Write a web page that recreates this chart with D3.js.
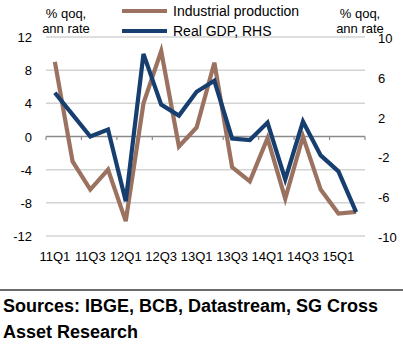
<!DOCTYPE html>
<html>
<head>
<meta charset="utf-8">
<script src="https://cdn.jsdelivr.net/npm/d3@7"></script>
<style>
  body { margin: 0; background: #fff; }
  svg { display: block; font-family: "Liberation Sans", Arial, sans-serif; }
</style>
</head>
<body>
<div id="chart"></div>
<script>
// quarters 11Q1 .. 15Q2
var quarters = ["11Q1","11Q2","11Q3","11Q4","12Q1","12Q2","12Q3","12Q4",
                "13Q1","13Q2","13Q3","13Q4","14Q1","14Q2","14Q3","14Q4","15Q1","15Q2"];
// industrial production, % qoq ann rate (left axis)
var industrial = [9.0, -3.0, -6.4, -4.0, -10.2, 4.0, 10.3, -1.2,
                  1.1, 8.9, -3.7, -5.4, -0.2, -7.5, 0.0, -6.4, -9.3, -9.1];
// real GDP, % qoq ann rate (right axis)
var gdp = [4.4, 2.2, 0.0, 0.7, -6.5, 8.3, 3.2, 2.1,
           4.5, 5.6, -0.2, -0.35, 1.4, -4.3, 1.5, -1.9, -3.5, -7.6];
var leftTicks = [12, 8, 4, 0, -4, -8, -12];
var rightTicks = [10, 6, 2, -2, -6, -10];
var xLabels = ["11Q1","11Q3","12Q1","12Q3","13Q1","13Q3","14Q1","14Q3","15Q1"];

var W = 403, H = 345;
var plot = {left: 46, right: 365, top: 37, bottom: 236};
var brown = "#9b7260", navy = "#163f70";

var svg = d3.select("#chart").append("svg").attr("width", W).attr("height", H);

var x = d3.scaleBand().domain(quarters).range([plot.left, plot.right]);
var yL = d3.scaleLinear().domain([-12, 12]).range([plot.bottom, plot.top]);
var yR = d3.scaleLinear().domain([-10, 10]).range([plot.bottom, plot.top]);

// gridlines
svg.append("g").selectAll("line").data(leftTicks.filter(function(d){ return d !== 0; }))
  .enter().append("line")
  .attr("x1", plot.left).attr("x2", plot.right)
  .attr("y1", function(d){ return yL(d); }).attr("y2", function(d){ return yL(d); })
  .attr("stroke", "#d3d3d3").attr("stroke-width", 1.5);

// zero axis with ticks every 2 quarters
var zeroY = yL(0);
svg.append("line").attr("x1", plot.left).attr("x2", plot.right)
  .attr("y1", zeroY).attr("y2", zeroY).attr("stroke", "#8a8a8a").attr("stroke-width", 1.5);
var tickPos = quarters.filter(function(d, i){ return i % 2 === 0; }).map(function(d){ return x(d); });
tickPos.push(plot.right);
svg.append("g").selectAll("line").data(tickPos).enter().append("line")
  .attr("x1", function(d){ return d; }).attr("x2", function(d){ return d; })
  .attr("y1", zeroY).attr("y2", zeroY + 3.5)
  .attr("stroke", "#8a8a8a").attr("stroke-width", 1.2);

// left tick labels
svg.append("g").selectAll("text").data(leftTicks).enter().append("text")
  .attr("x", 32).attr("y", function(d){ return yL(d) + 5; })
  .attr("text-anchor", "end").attr("font-size", 13).attr("fill", "#000")
  .text(function(d){ return d; });

// right tick labels
svg.append("g").selectAll("text").data(rightTicks).enter().append("text")
  .attr("x", 378).attr("y", function(d){ return yR(d) + 6; })
  .attr("text-anchor", "start").attr("font-size", 13).attr("fill", "#000")
  .text(function(d){ return d; });

// x labels
svg.append("g").selectAll("text").data(xLabels).enter().append("text")
  .attr("x", function(d){ return x(d) + x.bandwidth() / 2; }).attr("y", 261)
  .attr("text-anchor", "middle").attr("font-size", 13).attr("fill", "#000")
  .text(function(d){ return d; });

// lines
var cx = function(d, i){ return x(quarters[i]) + x.bandwidth() / 2; };
svg.append("path").datum(industrial)
  .attr("d", d3.line().x(cx).y(function(d){ return yL(d); }))
  .attr("fill", "none").attr("stroke", brown).attr("stroke-width", 4.2)
  .attr("stroke-linejoin", "miter");
svg.append("path").datum(gdp)
  .attr("d", d3.line().x(cx).y(function(d){ return yR(d); }))
  .attr("fill", "none").attr("stroke", navy).attr("stroke-width", 4.2)
  .attr("stroke-linejoin", "miter");

// axis titles
[{x: 66}, {x: 360}].forEach(function(p){
  svg.append("text").attr("x", p.x).attr("y", 18).attr("text-anchor", "middle")
    .attr("font-size", 13).text("% qoq,");
  svg.append("text").attr("x", p.x).attr("y", 33).attr("text-anchor", "middle")
    .attr("font-size", 13).text("ann rate");
});

// legend
var legend = [{name: "Industrial production", color: brown, y: 11},
              {name: "Real GDP, RHS", color: navy, y: 31}];
var lg = svg.append("g").selectAll("g").data(legend).enter().append("g");
lg.append("line").attr("x1", 122).attr("x2", 167)
  .attr("y1", function(d){ return d.y; }).attr("y2", function(d){ return d.y; })
  .attr("stroke", function(d){ return d.color; }).attr("stroke-width", 4);
lg.append("text").attr("x", 173).attr("y", function(d){ return d.y + 5; })
  .attr("font-size", 14).text(function(d){ return d.name; });

// footer
svg.append("line").attr("x1", 0).attr("x2", W).attr("y1", 290).attr("y2", 290)
  .attr("stroke", "#6b6b6b").attr("stroke-width", 2);
svg.append("text").attr("x", 3).attr("y", 312).attr("font-size", 18).attr("font-weight", "bold")
  .text("Sources: IBGE, BCB, Datastream, SG Cross");
svg.append("text").attr("x", 3).attr("y", 338).attr("font-size", 18).attr("font-weight", "bold")
  .text("Asset Research");
</script>
</body>
</html>
